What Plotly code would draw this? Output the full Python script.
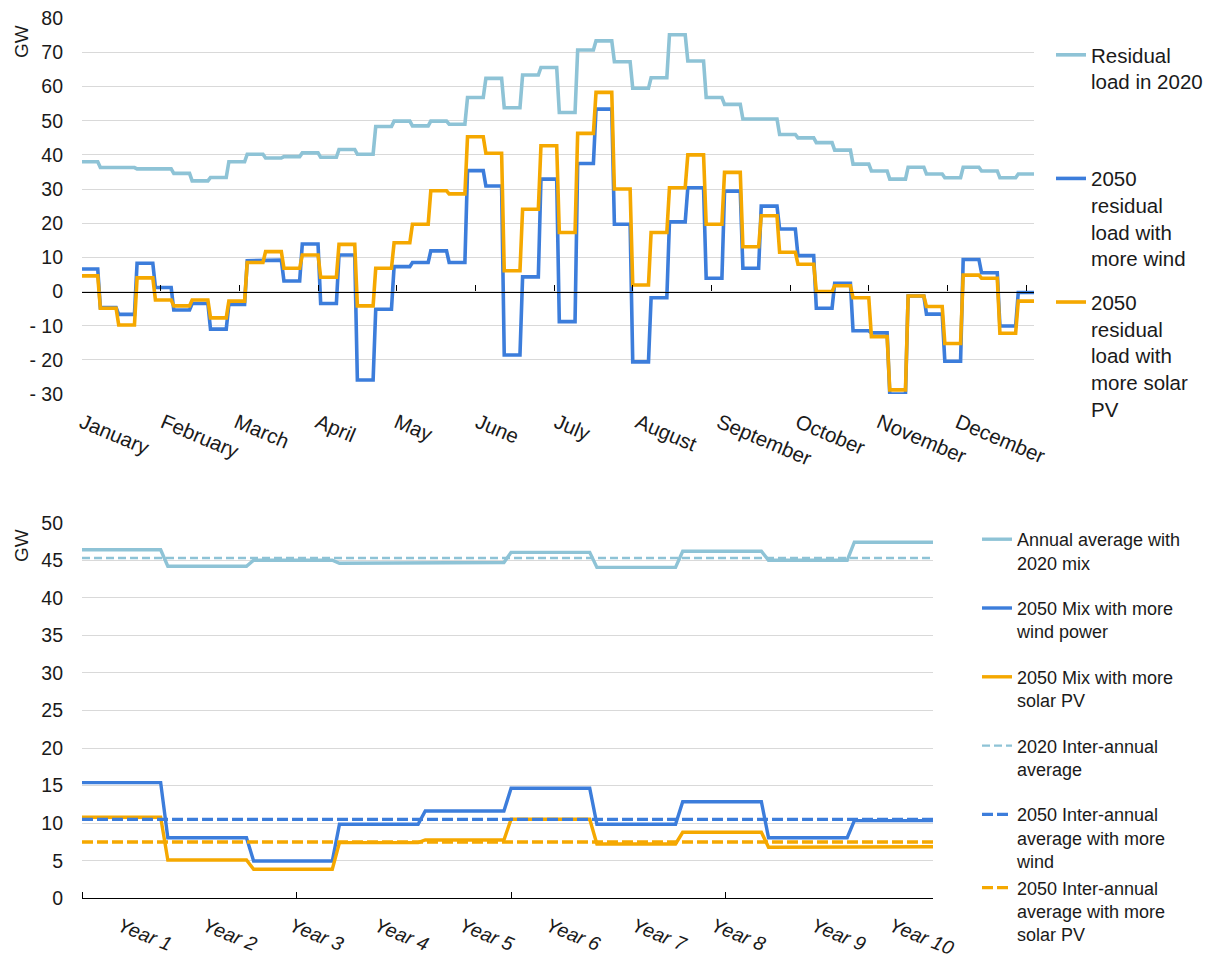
import numpy as np
import plotly.graph_objects as go

# ---------------- Data: top chart (weekly residual load, GW) ----------------
months = ["January", "February", "March", "April", "May", "June", "July",
          "August", "September", "October", "November", "December"]
month_start_day = [0, 31, 59, 90, 120, 151, 181, 212, 243, 273, 304, 334]

resid_2020 = [38.0, 36.3, 36.3, 35.9, 35.9, 34.6, 32.4, 33.4, 38.0, 40.2,
              39.1, 39.5, 40.6, 39.3, 41.6, 40.2, 48.3, 49.9, 48.5, 49.9,
              49.0, 56.8, 62.4, 53.8, 63.4, 65.6, 52.4, 70.7, 73.4, 67.3,
              59.5, 62.6, 75.2, 67.5, 56.8, 54.8, 50.5, 50.5, 46.0, 45.0,
              43.6, 41.4, 37.3, 35.3, 32.9, 36.4, 34.4, 33.3, 36.4, 35.3,
              33.3, 34.4]
resid_2050_wind = [6.6, -4.7, -6.7, 8.3, 1.2, -5.4, -3.5, -11.0, -3.8, 9.0,
                   9.2, 3.1, 13.9, -3.5, 10.7, -25.9, -5.2, 7.3, 8.5, 11.9,
                   8.5, 35.4, 30.9, -18.6, 4.3, 32.9, -8.8, 37.5, 53.4, 19.7,
                   -20.6, -1.8, 20.4, 30.4, 3.9, 29.4, 6.8, 25.0, 18.3, 10.5,
                   -4.9, 2.4, -11.5, -12.1, -30.0, -1.3, -6.6, -20.4, 9.4, 5.5,
                   -10.1, -0.3]
resid_2050_solar = [4.6, -4.9, -9.8, 4.0, -2.5, -4.2, -2.5, -7.7, -2.8, 8.5,
                    11.7, 6.8, 10.7, 4.2, 13.8, -4.2, 6.8, 14.3, 19.7, 29.5,
                    28.6, 45.3, 40.5, 6.1, 24.1, 42.7, 17.3, 46.3, 58.3, 30.0,
                    1.9, 17.3, 30.4, 40.0, 19.7, 34.9, 13.1, 22.2, 11.5, 8.0,
                    0.0, 1.7, -1.8, -13.2, -28.8, -1.3, -4.4, -15.2, 4.8, 3.9,
                    -12.2, -2.8]
top_names = ["Residual<br>load in 2020",
             "2050<br>residual<br>load with<br>more wind",
             "2050<br>residual<br>load with<br>more solar<br>PV"]

# ---------------- Data: bottom chart (annual averages, GW) ----------------
years = ["Year 1", "Year 2", "Year 3", "Year 4", "Year 5",
         "Year 6", "Year 7", "Year 8", "Year 9", "Year 10"]
year_label_pos = [5.3, 17.2, 29.3, 41.2, 53.1, 65.2, 77.2, 88.3, 102.3, 113.2]
annual_2020 = [46.4, 44.2, 45.0, 44.6, 44.7, 46.05, 44.05, 46.2, 45.0, 47.4]
annual_2050_wind = [15.4, 8.07, 4.97, 9.85, 11.62, 14.64, 9.85, 12.86, 8.07, 10.34]
annual_2050_solar = [10.78, 5.1, 3.86, 7.41, 7.76, 10.52, 7.23, 8.79, 6.79, 6.87]
interannual_2020 = 45.3
interannual_2050_wind = 10.5
interannual_2050_solar = 7.5
bottom_names = ["Annual average with<br>2020 mix",
                "2050 Mix with more<br>wind power",
                "2050 Mix with more<br>solar PV",
                "2020 Inter-annual<br>average",
                "2050 Inter-annual<br>average with more<br>wind",
                "2050 Inter-annual<br>average with more<br>solar PV"]

# ---------------- Styles ----------------
C_LIGHT = "#8EC3D6"
C_BLUE = "#3C7DDB"
C_ORANGE = "#F5A800"
GRID = "#D9D9D9"
TXT = "#1a1a1a"
FONT = "Liberation Sans, Arial, sans-serif"
NBSP = "\u00a0"

PAGE_W, PAGE_H = 1219, 957
OFF = 8  # page body margin
W, H = PAGE_W - OFF, PAGE_H - OFF

# plot areas in page pixels
top_px = dict(x0=82, x1=1034, y0=18.3, y1=394)
bot_px = dict(x0=82, x1=933, y0=522.7, y1=898.3)

def fx(px):
    return (px - OFF) / W

def fy(py):
    return 1 - (py - OFF) / H

def xdom(p):
    return [fx(p["x0"]), fx(p["x1"])]

def ydom(p):
    return [fy(p["y1"]), fy(p["y0"])]

DAYS_PER_WEEK = 7
MONTHS_PER_YEAR = 12

day_x = np.arange(len(resid_2020) * DAYS_PER_WEEK)
mon_x = np.arange(len(annual_2020) * MONTHS_PER_YEAR)

def daily(v):
    return np.repeat(np.asarray(v, dtype=float), DAYS_PER_WEEK)

def monthly(v):
    return np.repeat(np.asarray(v, dtype=float), MONTHS_PER_YEAR)

fig = go.Figure()

# top traces
top_series = [resid_2020, resid_2050_wind, resid_2050_solar]
top_colors = [C_LIGHT, C_BLUE, C_ORANGE]
pad_lines = [2, 0, 0]
for i, (s, c, n, pad) in enumerate(zip(top_series, top_colors, top_names, pad_lines)):
    fig.add_trace(go.Scatter(
        x=day_x, y=daily(s), mode="lines", name=n + ("<br>" + NBSP) * pad,
        line=dict(color=c, width=3.6), xaxis="x", yaxis="y",
        legend="legend", legendgroup=f"t{i}", hoverinfo="skip"))

# empty trace carrying the overlay axis drawn along the zero line
fig.add_trace(go.Scatter(x=[], y=[], xaxis="x3", yaxis="y", showlegend=False,
                         hoverinfo="skip"))

# bottom traces
bot_solid = [annual_2020, annual_2050_wind, annual_2050_solar]
bot_avg = [interannual_2020, interannual_2050_wind, interannual_2050_solar]
bot_colors = [C_LIGHT, C_BLUE, C_ORANGE]
for i, (s, c, n) in enumerate(zip(bot_solid, bot_colors, bottom_names[:3])):
    fig.add_trace(go.Scatter(
        x=mon_x, y=monthly(s), mode="lines", name=n,
        line=dict(color=c, width=3.4), xaxis="x2", yaxis="y2",
        legend="legend2", legendgroup=f"b{i}", hoverinfo="skip"))
avg_widths = [2.4, 3.4, 3.4]
avg_dash = ["8px,4px", "11px,4px", "11px,4px"]
avg_groups = ["b3", "b4", "b4"]
for a, c, n, wdt, d, g in zip(bot_avg, bot_colors, bottom_names[3:], avg_widths, avg_dash, avg_groups):
    fig.add_trace(go.Scatter(
        x=mon_x, y=np.full(len(mon_x), a), mode="lines", name=n,
        line=dict(color=c, width=wdt, dash=d), xaxis="x2", yaxis="y2",
        legend="legend2", legendgroup=g, hoverinfo="skip"))

tickfont = dict(family=FONT, size=19.5, color=TXT)

top_ymin, top_ymax = -30, 80
top_yvals = list(range(top_ymin, top_ymax + 1, 10))
top_ytext = [f"- {abs(v)}" if v < 0 else str(v) for v in top_yvals]
ytd = ydom(top_px)
zero_pos = ytd[0] + (0 - top_ymin) / (top_ymax - top_ymin) * (ytd[1] - ytd[0])

bot_yvals = list(range(0, 51, 5))

fig.update_layout(
    width=W, height=H,
    margin=dict(l=0, r=0, t=0, b=0, autoexpand=False),
    paper_bgcolor="white", plot_bgcolor="white",
    font=dict(family=FONT, color=TXT),
    xaxis=dict(domain=xdom(top_px), anchor="y", range=[0, len(day_x) - 1],
               tickmode="array", tickvals=month_start_day, ticktext=months,
               tickangle=23, ticks="", showgrid=False, zeroline=False,
               showline=False, tickfont=dict(family=FONT, size=20.5, color=TXT),
               ticklabelstandoff=12, ticklabeloverflow="allow", automargin=False),
    xaxis3=dict(overlaying="x", anchor="free", position=zero_pos,
                range=[0, len(day_x) - 1], tickmode="linear", tick0=0, dtick=30,
                ticks="inside", ticklen=6, tickwidth=1.3, tickcolor="black",
                showticklabels=False, showgrid=False, zeroline=False,
                showline=True, linecolor="black", linewidth=1.3, automargin=False),
    yaxis=dict(domain=ydom(top_px), anchor="x", range=[top_ymin, top_ymax],
               tickmode="array", tickvals=top_yvals, ticktext=top_ytext,
               showgrid=True, gridcolor=GRID, gridwidth=1.3, zeroline=False,
               ticks="", tickfont=tickfont, ticklabelstandoff=18,
               ticklabeloverflow="allow", automargin=False),
    xaxis2=dict(domain=xdom(bot_px), anchor="y2", range=[0, len(mon_x) - 1],
                tickmode="array", tickvals=year_label_pos,
                ticktext=years, tickangle=22, ticks="",
                minor=dict(tickmode="array", tickvals=[0, 30, 60, 90],
                           ticks="inside", ticklen=6, tickwidth=1.3,
                           tickcolor="black", showgrid=False),
                showgrid=False, zeroline=False, showline=True,
                linecolor="black", linewidth=1.3,
                tickfont=dict(family=FONT, size=19.5, color=TXT, style="italic"),
                ticklabelstandoff=8, ticklabeloverflow="allow", automargin=False),
    yaxis2=dict(domain=ydom(bot_px), anchor="x2", range=[0, 50],
                tickmode="array", tickvals=bot_yvals,
                showgrid=True, gridcolor=GRID, gridwidth=1.3, zeroline=False,
                ticks="", tickfont=tickfont, ticklabelstandoff=18,
                ticklabeloverflow="allow", automargin=False),
    legend=dict(x=fx(1051), y=fy(35), xanchor="left", yanchor="top",
                font=dict(family=FONT, size=20.5, color=TXT), valign="top",
                tracegroupgap=14, bgcolor="rgba(0,0,0,0)"),
    legend2=dict(x=fx(977), y=fy(521), xanchor="left", yanchor="top",
                 font=dict(family=FONT, size=18, color=TXT), valign="top",
                 tracegroupgap=19, bgcolor="rgba(0,0,0,0)"),
    showlegend=True,
    annotations=[
        dict(text="GW", x=fx(21), y=fy(42), xref="paper", yref="paper",
             xanchor="center", yanchor="middle",
             showarrow=False, textangle=-90, font=dict(family=FONT, size=19, color=TXT)),
        dict(text="GW", x=fx(21), y=fy(546), xref="paper", yref="paper",
             xanchor="center", yanchor="middle",
             showarrow=False, textangle=-90, font=dict(family=FONT, size=19, color=TXT)),
    ],
)

fig.write_html("out.html")
